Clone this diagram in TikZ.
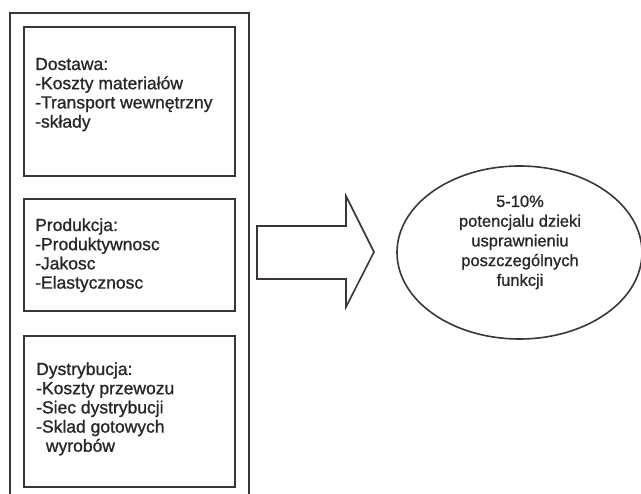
\documentclass[tikz,border=0pt]{standalone}
\usepackage{fontspec}
\setmainfont[FakeBold=1.0]{Liberation Sans}
\newfontfamily\heavyfont[FakeBold=1.0]{Liberation Sans}
\usetikzlibrary{shapes.geometric}
\definecolor{ln}{HTML}{3B3536}
\definecolor{tx}{HTML}{2A2626}
\begin{document}
\begin{tikzpicture}[x=1pt,y=-1pt,
  frame/.style={draw=ln,line width=2.2pt},
  fbox/.style={draw=ln,line width=2.2pt,rectangle,inner sep=0pt,minimum width=211pt},
  btext/.style={anchor=base west,align=left,inner sep=0pt,text=tx,font=\heavyfont\fontsize{17.5}{19.2}\selectfont},
  etext/.style={anchor=base,align=center,inner sep=0pt,text=tx,font=\heavyfont\fontsize{16.5}{19.7}\selectfont},
  bigarrow/.style={draw=ln,line width=1.6pt,line join=miter}]
\useasboundingbox (0,0) rectangle (641,494);
% outer frame (open at the bottom edge)
\coordinate (fbl) at (10,500);
\coordinate (ftl) at (10,13);
\coordinate (ftr) at (249,13);
\coordinate (fbr) at (249,500);
\draw[frame] (fbl) -- (ftl) -- (ftr) -- (fbr);
% inner boxes
\node[fbox,minimum height=149pt] (b1) at (129.5,101.5) {};
\node[fbox,minimum height=112pt] (b2) at (129.5,255) {};
\node[fbox,minimum height=151pt] (b3) at (129.5,411.5) {};
% text blocks (anchored at the baseline of their last line)
\node[btext] (t1) at (35,127.6) {Dostawa:\\-Koszty materiałów\\-Transport wewnętrzny\\-składy};
\node[btext] (t2) at (35,288.6) {Produkcja:\\-Produktywnosc\\-Jakosc\\-Elastycznosc};
\node[btext] (t3) at (36,451.8) {Dystrybucja:\\-Koszty przewozu\\-Siec dystrybucji\\-Sklad gotowych\\\ \ wyrobów};
% big arrow
\coordinate (a1) at (257,226);
\coordinate (a2) at (346,226);
\coordinate (a3) at (346,196);
\coordinate (a4) at (374,252);
\coordinate (a5) at (346,307);
\coordinate (a6) at (346,279);
\coordinate (a7) at (257,279);
\draw[bigarrow] (a1) -- (a2) -- (a3) -- (a4) -- (a5) -- (a6) -- (a7) -- cycle;
% ellipse
\node[draw=ln,line width=1.6pt,ellipse,inner sep=0pt,minimum width=245pt,minimum height=173pt] (el) at (519.5,252.5) {};
\node[etext] (et) at (520,285.8) {5-10\%\\potencjalu dzieki\\usprawnieniu\\poszczególnych\\funkcji};
\end{tikzpicture}
\end{document}
